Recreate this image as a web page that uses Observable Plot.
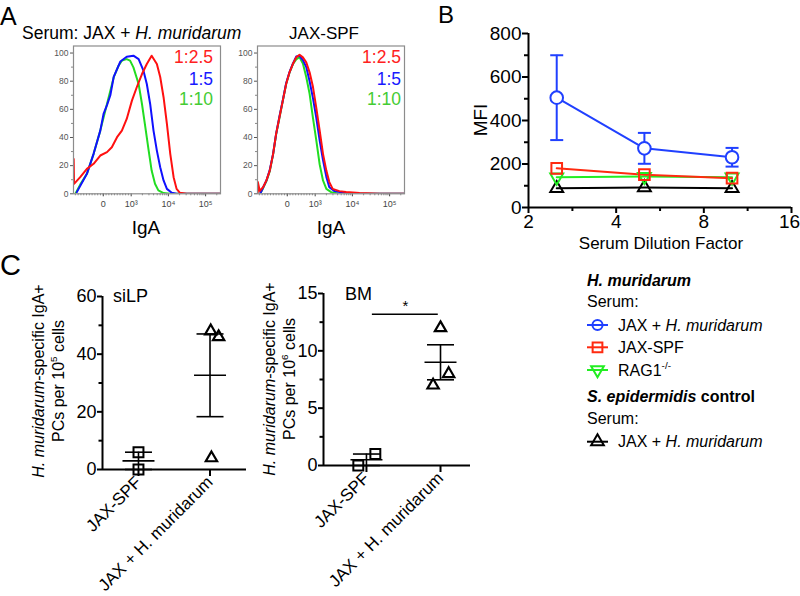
<!DOCTYPE html>
<html>
<head>
<meta charset="utf-8">
<script src="https://cdn.jsdelivr.net/npm/d3@7"></script>
<script src="https://cdn.jsdelivr.net/npm/@observablehq/plot@0.6"></script>
<style>
  html, body { margin: 0; padding: 0; background: #fff; }
  #root { position: relative; width: 800px; height: 596px; overflow: hidden; background: #fff;
          font-family: "Liberation Sans", Arial, Helvetica, sans-serif; }
</style>
</head>
<body>
<div id="root"></div>
<script>
const FONT = '"Liberation Sans", Arial, Helvetica, sans-serif';

// ---------------- Panel A : IgA histograms ----------------
// x: display position in decades (10^3 -> 3, 10^4 -> 4, ...), y: % of max
const igaDomain = [1.45, 5.40];
const igaTickPos = [2.25, 3, 4, 5];
const igaTickLabels = ["0", "10³", "10⁴", "10⁵"];
const pctTicks = [0, 20, 40, 60, 80, 100];
const pctMinor = [10, 30, 50, 70, 90];
const dilLabels = ["1:2.5", "1:5", "1:10"];

const hmGreen = [[1.50,0],[1.63,6.5],[1.81,14.2],[1.99,28.4],[2.17,44.9],[2.35,63.8],[2.44,73.3],[2.53,82.7],[2.66,91.0],[2.75,94.6],[2.88,95.7],[2.97,94.6],[3.06,89.8],[3.20,78.0],[3.29,63.8],[3.38,47.3],[3.47,30.7],[3.55,16.5],[3.64,7.1],[3.73,2.4],[3.87,0.5],[4.05,0],[5.39,0]];
const hmBlue = [[1.54,1.2],[1.81,14.2],[1.99,28.4],[2.17,44.9],[2.26,57.0],[2.35,63.0],[2.44,70.0],[2.53,83.0],[2.71,94.0],[2.88,97.4],[3.06,98.1],[3.20,95.7],[3.33,87.5],[3.42,78.0],[3.51,63.8],[3.60,44.9],[3.69,30.7],[3.78,18.9],[3.87,9.5],[3.96,3.5],[4.09,0.7],[4.22,0],[5.39,0]];
const hmRed = [[1.455,24.8],[1.465,7.1],[1.63,11.8],[1.81,17.7],[1.99,21.3],[2.17,27.2],[2.35,29.6],[2.48,33.1],[2.62,40.2],[2.75,44.9],[2.88,53.2],[3.02,66.2],[3.15,75.7],[3.29,85.1],[3.42,92.2],[3.55,98.1],[3.69,92.2],[3.78,83.0],[3.87,68.6],[3.96,49.6],[4.05,28.4],[4.14,11.8],[4.22,3.5],[4.31,0.7],[4.49,0],[5.39,0]];

const spfGreen = [[1.52,0],[1.60,4.0],[1.69,9.0],[1.78,16.0],[1.87,28.0],[1.95,42.0],[2.04,54.0],[2.13,66.0],[2.22,78.0],[2.31,86.0],[2.40,92.0],[2.49,95.5],[2.58,97.0],[2.67,92.5],[2.76,83.0],[2.85,71.0],[2.94,54.0],[3.03,38.0],[3.12,21.0],[3.21,9.5],[3.30,3.5],[3.43,1.2],[3.65,0],[5.40,0]];
const spfBlue = [[1.52,0],[1.60,4.5],[1.69,9.5],[1.78,17.0],[1.87,28.5],[1.95,42.5],[2.04,55.0],[2.13,66.5],[2.22,78.5],[2.31,86.5],[2.40,92.5],[2.49,97.5],[2.58,98.0],[2.67,95.0],[2.76,90.0],[2.85,80.0],[2.94,68.0],[3.03,54.0],[3.12,38.0],[3.21,24.0],[3.30,12.0],[3.38,4.7],[3.52,1.9],[3.83,0.5],[4.20,0],[5.40,0]];
const spfRed = [[1.455,0],[1.46,8.3],[1.51,2.0],[1.60,4.7],[1.69,9.5],[1.78,16.5],[1.87,28.4],[1.95,42.6],[2.04,54.4],[2.13,66.2],[2.22,78.0],[2.31,86.3],[2.40,92.2],[2.49,96.9],[2.58,98.8],[2.67,96.9],[2.76,93.4],[2.85,86.3],[2.94,76.0],[3.03,61.0],[3.12,45.0],[3.21,28.4],[3.30,16.5],[3.38,8.3],[3.47,3.5],[3.65,1.9],[3.83,1.2],[4.19,0.5],[4.73,0],[5.40,0]];

// ---------------- Panel B : MFI vs dilution ----------------
const dilutions = [2.5, 5, 10];
const mfiBlue = [505, 272, 231];
const semBlue = [195, 71, 43];
const mfiRed = [180, 151, 135];
const mfiGreen = [139, 142, 139];
const mfiBlack = [88, 92, 88];
const dilTicks = [2, 4, 8, 16];
const dilMinor = [2.83, 5.66, 11.31];
const mfiTicks = [0, 200, 400, 600, 800];
const mfiMinor = [100, 300, 500, 700];

// ---------------- Panel C : plasma cells ----------------
const cCats = ["JAX-SPF", "JAX + H. muridarum"];
const siLPSpf = [6, 0];
const siLPSpfJit = [0, 0];
const siLPHm = [48, 46, 4];
const siLPHmJit = [0.01, 0.12, 0.02];
const bmSpf = [0, 1];
const bmSpfJit = [-0.11, 0.12];
const bmHm = [12, 8, 7];
const bmHmJit = [0, 0.11, -0.10];
const siLPTicks = [0, 20, 40, 60];
const siLPMinor = [10, 30, 50];
const bmTicks = [0, 5, 10, 15];
const bmMinor = [2.5, 7.5, 12.5];
const bmSig = {x1: 1.08, x2: 1.97, y: 13.2, label: "*"};

// ---------------- colours ----------------
const cRed = "#ff1010", cBlue = "#1010ff", cGreen = "#22dd22";
const txtColors = ["#ff2020", "#1818ff", "#44cc33"];
const bBlue = "#2040ff", bRed = "#ff2a10", bGreen = "#22ee22", bBlack = "#000";

const root = document.getElementById("root");
function place(el, left, top) {
  el.style.position = "absolute";
  el.style.left = left + "px";
  el.style.top = top + "px";
  el.style.overflow = "visible";
  el.style.background = "transparent";
  el.style.maxWidth = "none";
  root.appendChild(el);
}
const baseStyle = {fontFamily: FONT, background: "transparent", overflow: "visible"};

// custom marker shapes
const hline = {draw(ctx, size) { const w = Math.sqrt(size / Math.PI); ctx.moveTo(-w, 0); ctx.lineTo(w, 0); }};
const triDown = {draw(ctx, size) {
  const y = -Math.sqrt(size / (Math.sqrt(3) * 3));
  ctx.moveTo(0, -y * 2); ctx.lineTo(-Math.sqrt(3) * y, y); ctx.lineTo(Math.sqrt(3) * y, y); ctx.closePath();
}};

// ---------- A ----------
const igaMinor = [...d3.range(1.50, 2.95, 0.075), ...[3, 4].flatMap(n => d3.range(2, 10).map(k => n + Math.log10(k))), 5.30];
function histogram(curves) {
  return Plot.plot({
    width: 185, height: 175, marginLeft: 33, marginRight: 5, marginTop: 5.5, marginBottom: 21.7,
    x: {domain: igaDomain}, y: {domain: [0, 105]},
    style: baseStyle,
    marks: [
      Plot.axisY({ticks: pctTicks, tickSize: 3, tickPadding: 2, fontSize: 8.5, color: "#555", label: null, tickFormat: d => String(d)}),
      Plot.axisY({ticks: pctMinor, tickSize: 2, color: "#888", label: null, tickFormat: () => ""}),
      Plot.axisX({ticks: igaMinor, tickSize: 2, color: "#888", label: null, tickFormat: () => ""}),
      Plot.axisX({ticks: igaTickPos, tickSize: 3, tickPadding: 4, fontSize: 9, color: "#444", label: null,
                  tickFormat: d => igaTickLabels[igaTickPos.indexOf(d)]}),
      ...curves.map(c => Plot.line(c.data, {x: d => d[0], y: d => d[1], stroke: c.color, strokeWidth: 2, clip: true})),
      Plot.frame({stroke: "#8c8c8c", strokeWidth: 1.2})
    ]
  });
}
place(histogram([{data: hmGreen, color: cGreen}, {data: hmBlue, color: cBlue}, {data: hmRed, color: cRed}]), 40, 40);
place(histogram([{data: spfGreen, color: cGreen}, {data: spfBlue, color: cBlue}, {data: spfRed, color: cRed}]), 224, 40);

// ---------- B ----------
const bSeries = [
  {name: "S. epidermidis: JAX + H. muridarum", vals: mfiBlack, color: bBlack, symbol: "triangle", r: 4.8},
  {name: "RAG1-/-", vals: mfiGreen, color: bGreen, symbol: triDown, r: 4.8},
  {name: "JAX-SPF", vals: mfiRed, color: bRed, symbol: "square", r: 6.0},
  {name: "JAX + H. muridarum", vals: mfiBlue, color: bBlue, symbol: "circle", r: 6.3, sem: semBlue}
];
const bRows = bSeries.map(s => s.vals.map((v, i) => ({name: s.name, dil: dilutions[i], mfi: v, sem: s.sem ? s.sem[i] : 0})));
const blueRows = bRows[3];
const bPlot = Plot.plot({
  width: 360, height: 245, marginLeft: 88, marginRight: 9, marginTop: 13, marginBottom: 58,
  x: {type: "log", base: 2, domain: [2, 16]}, y: {domain: [0, 800]},
  style: baseStyle,
  marks: [
    Plot.axisY({ticks: mfiTicks, tickSize: 6, tickPadding: 1, fontSize: 19, strokeWidth: 2, label: null, tickFormat: d => String(d)}),
    Plot.axisY({ticks: mfiMinor, tickSize: 4, strokeWidth: 2, label: null, tickFormat: () => ""}),
    Plot.axisX({ticks: dilTicks, tickSize: 6, strokeWidth: 2, label: null, tickFormat: () => ""}),
    Plot.axisX({ticks: dilTicks.slice(0, 3), tickSize: 0, tickPadding: 7, fontSize: 19, label: null, tickFormat: d => String(d)}),
    Plot.axisX({ticks: dilTicks.slice(3), tickSize: 0, tickPadding: 7, fontSize: 19, label: null, dx: -2, tickFormat: d => String(d)}),
    Plot.axisX({ticks: dilMinor, tickSize: 4, strokeWidth: 2, label: null, tickFormat: () => ""}),
    Plot.ruleX([2], {stroke: "black", strokeWidth: 2}),
    Plot.ruleY([0], {stroke: "black", strokeWidth: 2}),
    ...bSeries.map((s, k) => Plot.line(bRows[k], {x: "dil", y: "mfi", stroke: s.color, strokeWidth: 2})),
    Plot.ruleX(blueRows, {x: "dil", y1: d => d.mfi - d.sem, y2: d => d.mfi + d.sem, stroke: bBlue, strokeWidth: 2}),
    Plot.dot(blueRows, {x: "dil", y: d => d.mfi + d.sem, symbol: hline, r: 6.5, stroke: bBlue, strokeWidth: 2}),
    Plot.dot(blueRows, {x: "dil", y: d => d.mfi - d.sem, symbol: hline, r: 6.5, stroke: bBlue, strokeWidth: 2}),
    ...bSeries.map((s, k) => Plot.dot(bRows[k], {x: "dil", y: "mfi", symbol: s.symbol, r: s.r, stroke: s.color, strokeWidth: 2,
      fill: k === 3 ? "white" : "none"}))
  ]
});
place(bPlot, 440, 20);

// ---------- C ----------
function stats(vals, cat) {
  const m = d3.mean(vals), s = d3.deviation(vals) / Math.sqrt(vals.length);
  return {cat, mean: m, lo: m - s, hi: m + s};
}
function dotPanel(cfg) {
  const spfPts = cfg.spf.map((v, i) => ({cat: 1, jit: cfg.spfJit[i], value: v}));
  const hmPts = cfg.hm.map((v, i) => ({cat: 2, jit: cfg.hmJit[i], value: v}));
  const st = [stats(cfg.spf, 1), stats(cfg.hm, 2)];
  const caps = st.flatMap(s => [{cat: s.cat, y: s.lo}, {cat: s.cat, y: s.hi}]);
  const marks = [
    Plot.axisY({ticks: cfg.yTicks, tickSize: 5, tickPadding: 1, fontSize: 18, strokeWidth: 2, label: null, tickFormat: d => String(d)}),
    Plot.axisY({ticks: cfg.yMinor, tickSize: 3.5, strokeWidth: 2, label: null, tickFormat: () => ""}),
    Plot.axisX({ticks: [1, 2], tickSize: 7, tickPadding: 3, fontSize: 17, strokeWidth: 2, label: null, tickRotate: -45,
                tickFormat: d => cCats[d - 1]}),
    Plot.ruleX([cfg.xDomain[0]], {stroke: "black", strokeWidth: 2}),
    Plot.ruleY([0], {stroke: "black", strokeWidth: 2}),
    Plot.dot(spfPts, {x: d => d.cat + d.jit, y: "value", symbol: "square", r: 5.6, stroke: "black", strokeWidth: 2, fill: "none"}),
    Plot.dot(hmPts, {x: d => d.cat + d.jit, y: "value", symbol: "triangle", r: 4.2, stroke: "black", strokeWidth: 2.2, fill: "none"}),
    Plot.ruleX(st, {x: "cat", y1: "lo", y2: "hi", strokeWidth: 1.6}),
    Plot.dot(st, {x: "cat", y: "mean", symbol: hline, r: 16, stroke: "black", strokeWidth: 1.6}),
    Plot.dot(caps, {x: "cat", y: "y", symbol: hline, r: 13.5, stroke: "black", strokeWidth: 1.6})
  ];
  if (cfg.sig) {
    marks.push(Plot.ruleY([cfg.sig], {x1: "x1", x2: "x2", y: "y", strokeWidth: 1.5}));
    marks.push(Plot.text([cfg.sig], {x: d => (d.x1 + d.x2) / 2, y: "y", text: "label", dy: -8, fontSize: 15}));
  }
  return Plot.plot({
    width: cfg.width, height: cfg.height,
    marginLeft: cfg.ml, marginRight: cfg.mr, marginTop: cfg.mt, marginBottom: cfg.mb,
    x: {domain: cfg.xDomain}, y: {domain: cfg.yDomain},
    style: baseStyle,
    marks
  });
}
place(dotPanel({spf: siLPSpf, spfJit: siLPSpfJit, hm: siLPHm, hmJit: siLPHmJit, yDomain: [0, 60], yTicks: siLPTicks, yMinor: siLPMinor,
  xDomain: [0.497, 2.51], width: 190, height: 316, ml: 32, mr: 14, mt: 16, mb: 127}), 70, 280);
place(dotPanel({spf: bmSpf, spfJit: bmSpfJit, hm: bmHm, hmJit: bmHmJit, yDomain: [0, 15], yTicks: bmTicks, yMinor: bmMinor,
  xDomain: [0.42, 2.405], width: 190, height: 316, ml: 33, mr: 10, mt: 13, mb: 131, sig: bmSig}), 290, 280);

// ---------------- text overlay (titles, labels, legend) ----------------
const ov = d3.create("svg").attr("width", 800).attr("height", 596).attr("font-family", FONT)
  .style("position", "absolute").style("left", "0px").style("top", "0px").style("pointer-events", "none");
function label(x, y, parts, o = {}) {
  const size = o.size || 16;
  const t = ov.append("text").attr("font-size", size).attr("text-anchor", o.anchor || "start")
    .attr("fill", o.fill || "#000").style("white-space", "pre");
  if (o.bold) t.attr("font-weight", "bold");
  if (o.rotate) t.attr("transform", `translate(${x},${y}) rotate(${o.rotate})`); else t.attr("x", x).attr("y", y);
  let raised = false;
  for (const p of parts) {
    const q = typeof p === "string" ? {t: p} : p;
    const s = t.append("tspan").text(q.t);
    if (q.i) s.attr("font-style", "italic");
    if (q.b) s.attr("font-weight", "bold");
    if (q.sup) { s.attr("font-size", size * 0.62).attr("dy", -size * 0.42); raised = true; }
    else if (raised) { s.attr("dy", size * 0.42); raised = false; }
  }
}
// panel letters
label(0, 25, ["A"], {size: 25});
label(438, 23, ["B"], {size: 24});
label(0, 275, ["C"], {size: 29});
// panel A
label(22, 38.5, ["Serum: JAX + ", {t: "H. muridarum", i: 1}], {size: 17.5});
label(324, 38.5, ["JAX-SPF"], {size: 17, anchor: "middle"});
const dilBaselines = [63, 85, 105];
[213, 401].forEach(px => dilLabels.forEach((d, i) => label(px, dilBaselines[i], [d], {size: 17.5, anchor: "end", fill: txtColors[i]})));
label(146, 234, ["IgA"], {size: 19, anchor: "middle"});
label(331, 234, ["IgA"], {size: 19, anchor: "middle"});
// panel B
label(487, 120, ["MFI"], {size: 19, anchor: "middle", rotate: -90});
label(661, 249, ["Serum Dilution Factor"], {size: 17, anchor: "middle"});
// panel C
label(113, 302, ["siLP"], {size: 18});
label(345, 300, ["BM"], {size: 18});
label(43.5, 381, [{t: "H. muridarum", i: 1}, "-specific IgA+"], {size: 16, anchor: "middle", rotate: -90});
label(63.5, 381, ["PCs per 10", {t: "5", sup: 1}, " cells"], {size: 16, anchor: "middle", rotate: -90});
label(275, 379, [{t: "H. muridarum", i: 1}, "-specific IgA+"], {size: 16, anchor: "middle", rotate: -90});
label(295, 379, ["PCs per 10", {t: "6", sup: 1}, " cells"], {size: 16, anchor: "middle", rotate: -90});

// legend for panel B
const legendItems = [
  {parts: [{t: "H. muridarum", i: 1, b: 1}]},
  {parts: ["Serum:"]},
  {parts: ["JAX + ", {t: "H. muridarum", i: 1}], color: bBlue, sym: d3.symbolCircle, size: 80},
  {parts: ["JAX-SPF"], color: bRed, sym: d3.symbolSquare, size: 95},
  {parts: ["RAG1", {t: "-/-", sup: 1}], color: bGreen, sym: triDown, size: 70},
  {parts: [{t: "S. epidermidis", i: 1, b: 1}, {t: " control", b: 1}]},
  {parts: ["Serum:"]},
  {parts: ["JAX + ", {t: "H. muridarum", i: 1}], color: bBlack, sym: d3.symbolTriangle, size: 70}
];
const legendBaselines = [285.7, 307.4, 330.7, 353, 375.7, 402.4, 424, 447.4];
legendItems.forEach((it, i) => {
  const yb = legendBaselines[i];
  if (it.sym) {
    const yc = yb - 5.7;
    ov.append("line").attr("x1", 587).attr("x2", 608).attr("y1", yc).attr("y2", yc).attr("stroke", it.color).attr("stroke-width", 2);
    ov.append("path").attr("d", d3.symbol(it.sym, it.size)()).attr("transform", `translate(597.5,${yc})`)
      .attr("fill", "none").attr("stroke", it.color).attr("stroke-width", 2);
    label(618, yb, it.parts, {size: 16});
  } else {
    label(587, yb, it.parts, {size: 16});
  }
});
root.appendChild(ov.node());
</script>
</body>
</html>
